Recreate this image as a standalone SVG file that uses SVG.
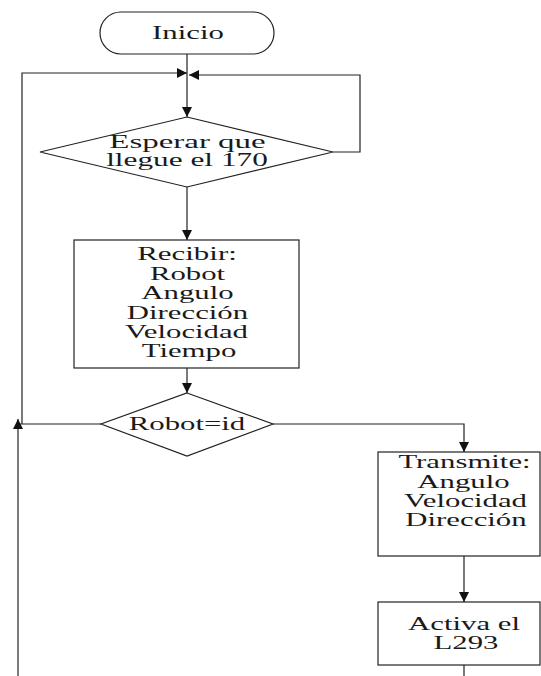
<svg xmlns="http://www.w3.org/2000/svg" width="541" height="676" viewBox="0 0 541 676">
<defs>
<marker id="ah" viewBox="0 0 10 10" refX="10" refY="5" markerWidth="10" markerHeight="10" markerUnits="userSpaceOnUse" orient="auto">
<path d="M0,0 L10,5 L0,10 Z" fill="#111"/>
</marker>
</defs>
<style>
.s{fill:#fff;stroke:#222;stroke-width:1.2}
.c{fill:none;stroke:#222;stroke-width:1.2}
text{font-family:"Liberation Serif","Times New Roman",serif;font-size:18px;fill:#1a1a1a;text-anchor:middle}
</style>
<rect width="541" height="676" fill="#fff"/>
<g id="connectors">
<path class="c" d="M187,54 V117" marker-end="url(#ah)"/>
<path class="c" d="M22,424 V73 H187" marker-end="url(#ah)"/>
<path class="c" d="M333,152 H360 V75 H189" marker-end="url(#ah)"/>
<path class="c" d="M187,187 V240" marker-end="url(#ah)"/>
<path class="c" d="M187,368 V393" marker-end="url(#ah)"/>
<path class="c" d="M101,424 H18"/>
<path class="c" d="M18,676 V419" marker-end="url(#ah)"/>
<path class="c" d="M273,424 H464 V452" marker-end="url(#ah)"/>
<path class="c" d="M464,556 V602" marker-end="url(#ah)"/>
<path class="c" d="M464,665 V676"/>
</g>
<g id="inicio">
<rect class="s" x="100" y="12" width="174" height="42" rx="21" ry="21"/>
<text transform="translate(188,39) scale(1.71,1)">Inicio</text>
</g>
<g id="esperar">
<polygon class="s" points="187,117 333,152 187,187 40,152"/>
<text transform="translate(187.5,148) scale(1.83,1)">Esperar que</text>
<text transform="translate(187,166) scale(1.74,1)">llegue el 170</text>
</g>
<g id="recibir">
<rect class="s" x="74" y="240" width="225" height="128"/>
<text transform="translate(187,260) scale(1.72,1)">Recibir:</text>
<text transform="translate(187.5,280) scale(1.71,1)">Robot</text>
<text transform="translate(187.5,299) scale(1.71,1)">Angulo</text>
<text transform="translate(187.5,319) scale(1.71,1)">Dirección</text>
<text transform="translate(186.5,338) scale(1.71,1)">Velocidad</text>
<text transform="translate(189,357) scale(1.71,1)">Tiempo</text>
</g>
<g id="robotid">
<polygon class="s" points="187,393 273,424 187,456 101,424"/>
<text transform="translate(187,430) scale(1.71,1)">Robot=id</text>
</g>
<g id="transmite">
<rect class="s" x="378" y="452" width="162" height="104"/>
<text transform="translate(464.5,468) scale(1.71,1)">Transmite:</text>
<text transform="translate(463.5,488) scale(1.71,1)">Angulo</text>
<text transform="translate(465.5,507) scale(1.71,1)">Velocidad</text>
<text transform="translate(466,526) scale(1.71,1)">Dirección</text>
</g>
<g id="activa">
<rect class="s" x="378" y="602" width="162" height="63"/>
<text transform="translate(464,630) scale(1.71,1)">Activa el</text>
<text transform="translate(466,649) scale(1.71,1)">L293</text>
</g>
</svg>
